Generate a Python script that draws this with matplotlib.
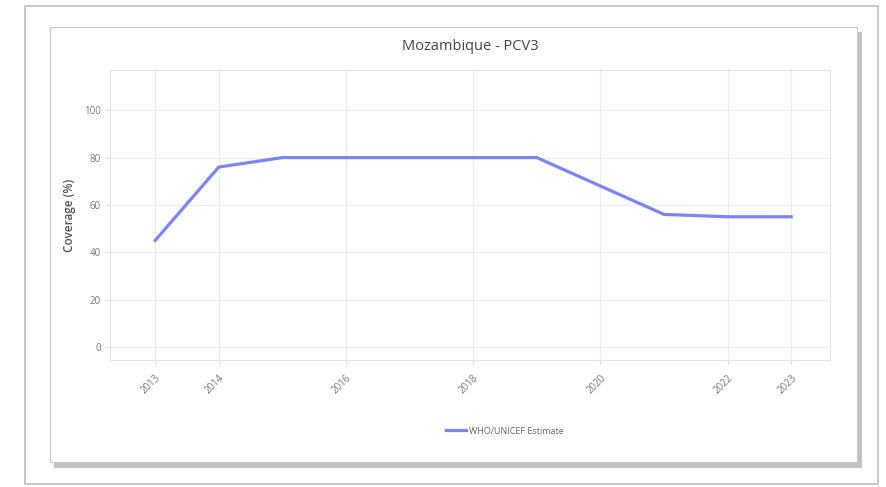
import matplotlib
matplotlib.use("Agg")
import matplotlib.pyplot as plt
from matplotlib.patches import Rectangle

plt.rcParams['font.family'] = ['Open Sans', 'DejaVu Sans']

years = [2013, 2014, 2015, 2016, 2017, 2018, 2019, 2020, 2021, 2022, 2023]
coverage = [45, 76, 80, 80, 80, 80, 80, 68, 56, 55, 55]
xticks = [2013, 2014, 2016, 2018, 2020, 2022, 2023]
yticks = [0, 20, 40, 60, 80, 100]

W, H = 887, 487
fig = plt.figure(figsize=(W / 100, H / 100), dpi=100)
fig.patch.set_facecolor('white')

def box(x0, y0, x1, y1, **kw):
    # pixel coords (top-left origin) -> figure fraction
    r = Rectangle((x0 / W, 1 - y1 / H), (x1 - x0) / W, (y1 - y0) / H,
                  transform=fig.transFigure, zorder=-5, **kw)
    fig.add_artist(r)

# outer frame
box(25, 6, 878, 484, facecolor='white', edgecolor='#bdbdbd', linewidth=1.2)
# card shadow + card
box(54, 32, 862, 468, facecolor='#8f8f8f', edgecolor='none', alpha=0.55)
box(50, 27, 857, 462, facecolor='white', edgecolor='#c8c8c8', linewidth=0.8)

ax = fig.add_axes([110 / W, 1 - 360 / H, 720 / W, 290 / H])
ax.plot(years, coverage, color='#7b85f7', linewidth=2.3,
        solid_joinstyle='round', label='WHO/UNICEF Estimate')

ax.set_xlim(2012.29, 2023.61)
ax.set_ylim(-5.5, 117)
ax.set_xticks(xticks)
ax.set_xticklabels([str(y) for y in xticks], rotation=45, ha='right',
                   rotation_mode='anchor', fontsize=7, color='#777777')
ax.set_yticks(yticks)
ax.set_yticklabels([str(v) for v in yticks], fontsize=7, color='#777777')
ax.tick_params(length=3, color='#dddddd', width=0.8)
ax.tick_params(axis='x', pad=6)
ax.grid(True, color='#ececec', linewidth=0.8)
ax.set_axisbelow(True)
for s in ax.spines.values():
    s.set_color('#e3e3e3')
    s.set_linewidth(0.8)

ax.set_ylabel('Coverage (%)', fontsize=8.5, color='#555555', labelpad=6,
              fontweight='semibold')
fig.text(470 / W, 1 - 47 / H, 'Mozambique - PCV3', ha='center', va='center',
         fontsize=10.5, color='#444444')

fig.legend(loc='center', bbox_to_anchor=(505 / W, 1 - 431 / H), frameon=False,
           fontsize=6.5, labelcolor='#666666', handlelength=2.2,
           handletextpad=0.4)

fig.savefig('out.png', dpi=100)
